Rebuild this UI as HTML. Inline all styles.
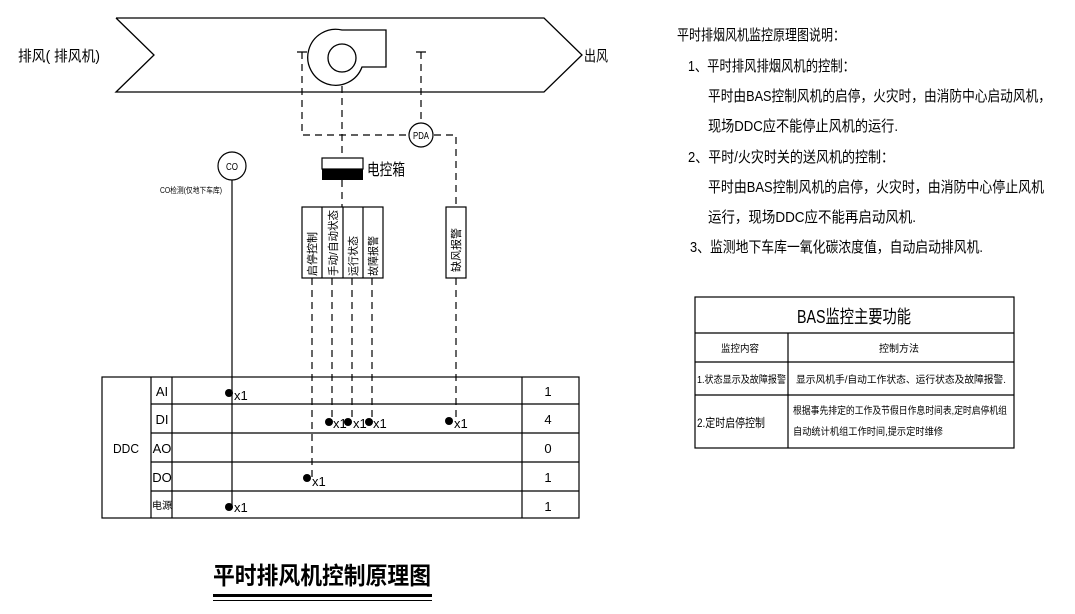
<!DOCTYPE html>
<html><head><meta charset="utf-8"><style>
html,body{margin:0;padding:0;background:#fff;}
svg{display:block;font-family:"Liberation Sans","Noto Sans CJK SC",sans-serif;}
</style></head><body>
<svg width="1075" height="614" viewBox="0 0 1075 614" xmlns="http://www.w3.org/2000/svg">
<g fill="none" stroke="#000" stroke-width="1.3">
<polyline points="116,18 544,18 582,55 544,92 116,92 154,55 116,18"/>
<!-- fan -->
<path d="M342,30 L386,30 L386,67 L362,67 A28,28 0 1 1 342,30 Z"/>
<circle cx="342" cy="58" r="14"/>
</g>
<g fill="none" stroke="#000" stroke-width="1.2" stroke-dasharray="7,5">
<path d="M342,86 V158"/>
<path d="M302,52 V135 H410"/>
<path d="M434,135 H456 V207"/>
<path d="M421,52 V123"/>
<path d="M342,180 V207"/>
<path d="M312,278 V478"/>
<path d="M332,278 V421"/>
<path d="M352,278 V421"/>
<path d="M372,278 V421"/>
<path d="M456,278 V421"/>
</g>
<g stroke="#000" stroke-width="1.2">
<path d="M297,52 H307 M416,52 H426"/>
<line x1="232" y1="180" x2="232" y2="507"/>
</g>
<g fill="#fff" stroke="#000" stroke-width="1.2">
<circle cx="421" cy="135" r="12"/>
<circle cx="232" cy="166" r="14"/>
<rect x="322" y="158" width="41" height="11"/>
</g>
<rect x="322" y="169" width="41" height="11" fill="#000"/>
<g fill="none" stroke="#000" stroke-width="1.2">
<rect x="302" y="207" width="81" height="71"/>
<path d="M322,207 V278 M343,207 V278 M363,207 V278"/>
<rect x="446" y="207" width="20" height="71"/>
</g>
<g font-size="10" text-anchor="middle">
<text x="421" y="139" textLength="16" lengthAdjust="spacingAndGlyphs">PDA</text>
<text x="232" y="170" textLength="12" lengthAdjust="spacingAndGlyphs">CO</text>
</g>
<text x="160" y="193" font-size="8" textLength="62" lengthAdjust="spacingAndGlyphs">CO检测(仅地下车库)</text>
<text x="18" y="61" font-size="15" textLength="82" lengthAdjust="spacingAndGlyphs">排风( 排风机)</text>
<text x="584" y="61" font-size="15" textLength="24" lengthAdjust="spacingAndGlyphs">出风</text>
<text x="367" y="175" font-size="16" textLength="38" lengthAdjust="spacingAndGlyphs">电控箱</text>
<g font-size="11">
<text transform="translate(316,276) rotate(-90)" textLength="44" lengthAdjust="spacingAndGlyphs">启停控制</text>
<text transform="translate(337,276) rotate(-90)" textLength="66" lengthAdjust="spacingAndGlyphs">手动/自动状态</text>
<text transform="translate(357,276) rotate(-90)" textLength="40" lengthAdjust="spacingAndGlyphs">运行状态</text>
<text transform="translate(377,276) rotate(-90)" textLength="40" lengthAdjust="spacingAndGlyphs">故障报警</text>
<text transform="translate(460,272) rotate(-90)" textLength="44" lengthAdjust="spacingAndGlyphs">缺风报警</text>
</g>
<!-- DDC table -->
<g fill="none" stroke="#000" stroke-width="1.2">
<rect x="102" y="377" width="477" height="141"/>
<path d="M151,377 V518 M172,377 V518 M522,377 V518"/>
<path d="M151,404 H579 M151,433 H579 M151,462 H579 M151,491 H579"/>
</g>
<g font-size="13" text-anchor="middle">
<text x="126" y="453" textLength="26" lengthAdjust="spacingAndGlyphs">DDC</text>
<text x="162" y="396">AI</text>
<text x="162" y="424">DI</text>
<text x="162" y="453">AO</text>
<text x="162" y="482">DO</text>
<text x="162" y="509" font-size="10">电源</text>
<text x="548" y="396">1</text>
<text x="548" y="424">4</text>
<text x="548" y="453">0</text>
<text x="548" y="482">1</text>
<text x="548" y="511">1</text>
</g>
<g fill="#000">
<circle cx="229" cy="393" r="4"/><circle cx="329" cy="422" r="4"/><circle cx="348" cy="422" r="4"/><circle cx="369" cy="422" r="4"/><circle cx="449" cy="421" r="4"/><circle cx="307" cy="478" r="4"/><circle cx="229" cy="507" r="4"/>
</g>
<g font-size="13">
<text x="234" y="400">x1</text><text x="333" y="428">x1</text><text x="353" y="428">x1</text><text x="373" y="428">x1</text><text x="454" y="428">x1</text><text x="312" y="486">x1</text><text x="234" y="512">x1</text>
</g>
<text x="213" y="584" font-size="24" font-weight="bold" textLength="218" lengthAdjust="spacingAndGlyphs">平时排风机控制原理图</text>
<rect x="213" y="594" width="219" height="3" fill="#000"/>
<rect x="213" y="600" width="219" height="1" fill="#000"/>
<!-- right notes -->
<g font-size="15">
<text x="677" y="40" textLength="168" lengthAdjust="spacingAndGlyphs">平时排烟风机监控原理图说明：</text>
<text x="688" y="71" textLength="167" lengthAdjust="spacingAndGlyphs">1、平时排风排烟风机的控制：</text>
<text x="708" y="101" textLength="343" lengthAdjust="spacingAndGlyphs">平时由BAS控制风机的启停，火灾时，由消防中心启动风机，</text>
<text x="708" y="131" textLength="190" lengthAdjust="spacingAndGlyphs">现场DDC应不能停止风机的运行.</text>
<text x="688" y="162" textLength="206" lengthAdjust="spacingAndGlyphs">2、平时/火灾时关的送风机的控制：</text>
<text x="708" y="192" textLength="336" lengthAdjust="spacingAndGlyphs">平时由BAS控制风机的启停，火灾时，由消防中心停止风机</text>
<text x="708" y="222" textLength="208" lengthAdjust="spacingAndGlyphs">运行，现场DDC应不能再启动风机.</text>
<text x="690" y="252" textLength="293" lengthAdjust="spacingAndGlyphs">3、监测地下车库一氧化碳浓度值，自动启动排风机.</text>
</g>
<g fill="none" stroke="#000" stroke-width="1.2">
<rect x="695" y="297" width="319" height="151"/>
<path d="M695,333 H1014 M695,362 H1014 M695,395 H1014 M788,333 V448"/>
</g>
<text x="854" y="323" font-size="18" text-anchor="middle" textLength="114" lengthAdjust="spacingAndGlyphs">BAS监控主要功能</text>
<g font-size="10">
<text x="721" y="352" textLength="38" lengthAdjust="spacingAndGlyphs">监控内容</text>
<text x="879" y="352" textLength="40" lengthAdjust="spacingAndGlyphs">控制方法</text>
<text x="697" y="383" textLength="89" lengthAdjust="spacingAndGlyphs">1.状态显示及故障报警</text>
<text x="796" y="383" textLength="210" lengthAdjust="spacingAndGlyphs">显示风机手/自动工作状态、运行状态及故障报警.</text>
<text x="697" y="427" font-size="12" textLength="68" lengthAdjust="spacingAndGlyphs">2.定时启停控制</text>
<text x="793" y="414" textLength="214" lengthAdjust="spacingAndGlyphs">根据事先排定的工作及节假日作息时间表,定时启停机组</text>
<text x="793" y="435" textLength="150" lengthAdjust="spacingAndGlyphs">自动统计机组工作时间,提示定时维修</text>
</g>
</svg>
</body></html>
